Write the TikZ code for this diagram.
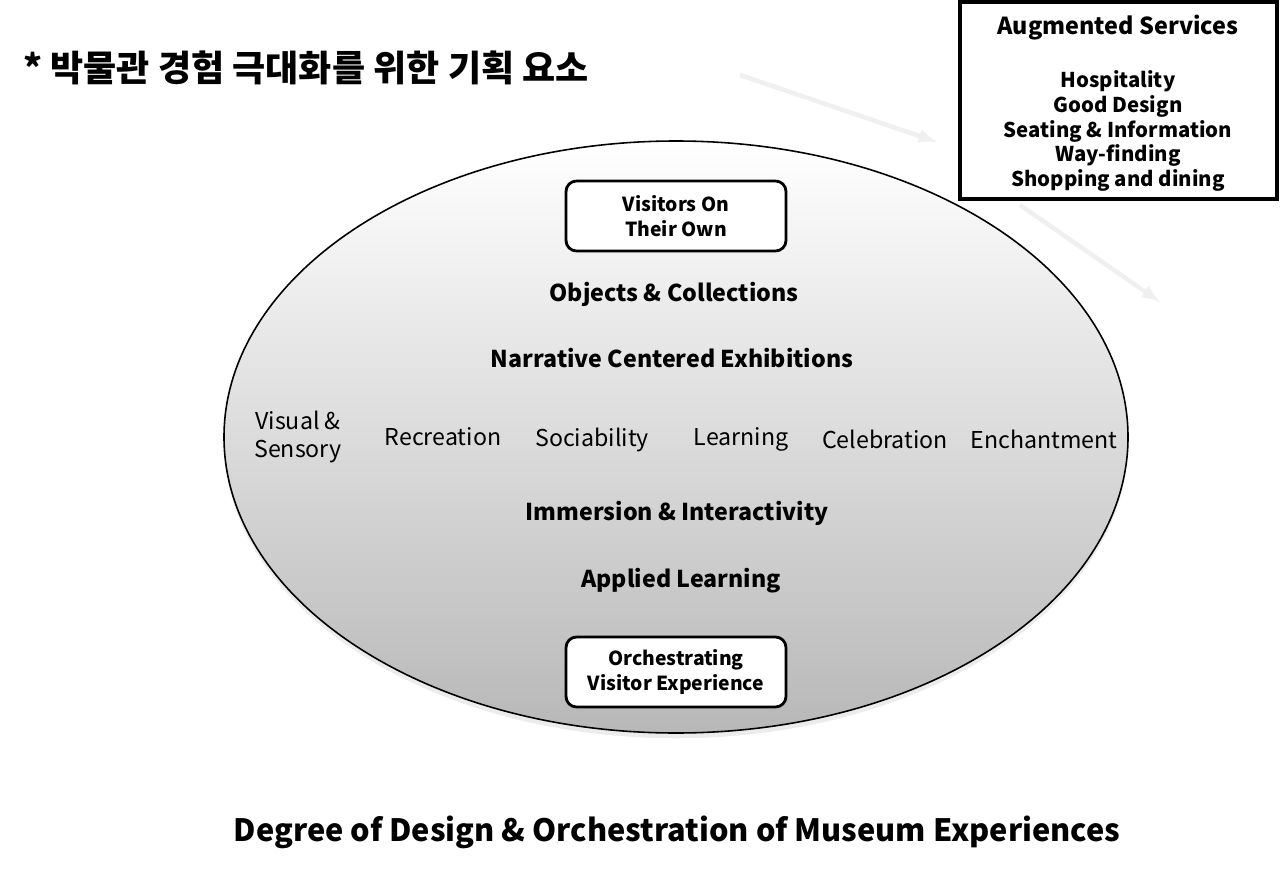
\documentclass[tikz,border=0pt]{standalone}
\usepackage{fontspec}
\setmainfont{Noto Sans CJK KR}
\usetikzlibrary{shadows}

\begin{document}
\begin{tikzpicture}[x=0.02cm,y=-0.02cm,
  stage/.style={draw,line width=1.6pt,rounded corners=6pt,fill=white,minimum width=220*0.02cm,minimum height=70*0.02cm,align=center,font=\bfseries\fontsize{11}{14}\selectfont},
  layer/.style={font=\bfseries\fontsize{13.2}{15}\selectfont},
  mode/.style={font=\fontsize{13.2}{16}\selectfont,align=center},
  hint/.style={draw=black!6,line width=2.6pt,-latex}]

\useasboundingbox (0,0) rectangle (1280,868);

\node[anchor=west,font=\bfseries\fontsize{20.5}{24}\selectfont] (title) at (17,68) {* 박물관 경험 극대화를 위한 기획 요소};

\draw[hint] (740,75) -- (937,142);
\draw[hint] (1020,205) -- (1160,302);

\shade[top color=white,bottom color=black!28,drop shadow={opacity=0.15,shadow xshift=0pt,shadow yshift=-3pt}] (676,437) ellipse [x radius=452,y radius=296];
\draw[line width=0.9pt] (676,437) ellipse [x radius=452,y radius=296];

\node[draw,line width=1.8pt,minimum width=317*0.02cm,minimum height=197*0.02cm] (aug) at (1118.5,100.5) {};
\node[font=\bfseries\fontsize{13.3}{15}\selectfont] (augtitle) at (1118,28) {Augmented Services};
\node[align=center,font=\bfseries\fontsize{11.6}{14.2}\selectfont] (auglist) at (1118,131) {Hospitality\\Good Design\\Seating \& Information\\Way-finding\\Shopping and dining};

\node[stage] (own) at (676,216) {Visitors On\\Their Own};
\node[layer] (objects) at (674,294) {Objects \& Collections};
\node[layer] (narrative) at (672,358) {Narrative Centered Exhibitions};

\node[mode] (visual) at (298,437) {Visual \&\\Sensory};
\node[mode] (recreation) at (443,437) {Recreation};
\node[mode] (sociability) at (592,440) {Sociability};
\node[mode] (learning) at (741,439) {Learning};
\node[mode] (celebration) at (885,439) {Celebration};
\node[mode] (enchant) at (1044,439) {Enchantment};

\node[layer] (immersion) at (677,513) {Immersion \& Interactivity};
\node[layer] (applied) at (681,581) {Applied Learning};
\node[stage] (orch) at (676,672) {Orchestrating\\Visitor Experience};

\node[font=\bfseries\fontsize{17.5}{20}\selectfont] (degree) at (677,832) {Degree of Design \& Orchestration of Museum Experiences};

\end{tikzpicture}
\end{document}
